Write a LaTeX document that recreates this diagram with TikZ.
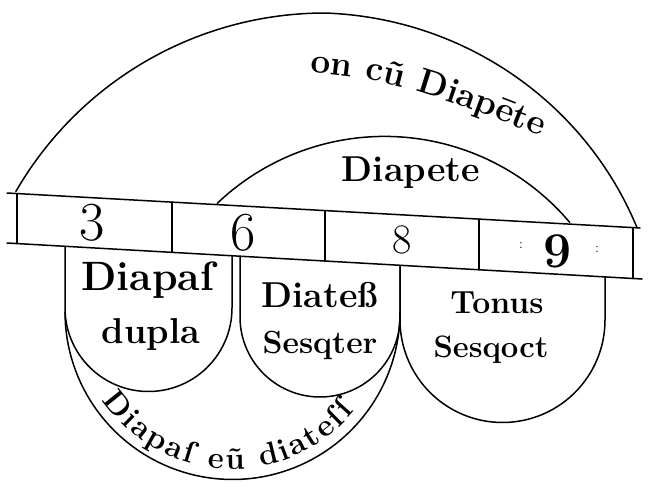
\documentclass[tikz,border=0pt]{standalone}
\usetikzlibrary{decorations.text}
\begin{document}
\begin{tikzpicture}[x=1pt,y=-1pt,
  ln/.style={line width=1.5pt,line cap=round,line join=round},
  lbl/.style={inner sep=0pt,anchor=base},
  num/.style={inner sep=0pt,anchor=base},
  speck/.style={inner sep=0pt,font=\fontsize{14}{14}\selectfont}]
\useasboundingbox (0,0) rectangle (655,495);
% --- the bar with its four cells
\draw[ln] (7,193) -- (640,228);
\draw[ln] (7,243) -- (642,279);
\draw[ln] (17,193.6) -- (17,243.6);
\draw[ln] (633,227.6) -- (633,278.5);
\draw[ln] (172,202.1) -- (172,252.4);
\draw[ln] (325,210.6) -- (325,261.0);
\draw[ln] (479,219.1) -- (479,269.8);
% --- numbers
\node[num,font=\fontsize{55}{55}\selectfont] (n3) at (92,240) {3};
\node[num,font=\fontsize{55}{55}\selectfont] (n6) at (243,250) {6};
\node[num,font=\fontsize{42}{42}\selectfont] (n8) at (402,253) {8};
\node[num,font=\bfseries\fontsize{50}{50}\selectfont] (n9) at (558,267) {9};
\node[speck] (s1) at (521,245) {:};
\node[speck] (s2) at (597,249) {:};
% --- big upper arc
\draw[ln] plot[domain=150:24.6,samples=120]
  ({325+(357-14*max(0,90-\x)/65.4)*cos(\x)},{370-(357-14*max(0,90-\x)/65.4)*sin(\x)});
% --- inner upper arc
\draw[ln] plot[domain=133.6:40.2,samples=80] ({384.5+242.5*cos(\x)},{378.9-242.5*sin(\x)});
% --- three U-shaped cells under the bar
\draw[ln] (65,246.3) -- (65,308) -- plot[domain=180:0,samples=60] ({148.5+83.5*cos(\x)},{308+83.5*sin(\x)}) -- (232,255.8);
\draw[ln] (240,256.2) -- (240,317) -- plot[domain=180:0,samples=60] ({320+80*cos(\x)},{317+80*sin(\x)}) -- (400,265.3);
\draw[ln] (400,265.3) -- (400,320) -- plot[domain=180:0,samples=60] ({502.5+102.5*cos(\x)},{320+102.5*sin(\x)}) -- (605,276.9);
% --- big lower arc
\draw[ln] plot[domain=180:0,samples=80] ({232.5+167.5*cos(\x)},{312+167.5*sin(\x)});
% --- labels inside
\node[lbl,font=\bfseries\fontsize{41}{41}\selectfont] (t1a) at (148,290) {Diapaſ};
\node[lbl,font=\bfseries\fontsize{36}{36}\selectfont] (t1b) at (151,343) {dupla};
\node[lbl,font=\bfseries\fontsize{36}{36}\selectfont] (t2a) at (320,307) {Diateß};
\node[lbl,font=\bfseries\fontsize{32}{32}\selectfont] (t2b) at (320,353) {Sesqter};
\node[lbl,font=\bfseries\fontsize{32}{32}\selectfont] (t3a) at (497,313) {Tonus};
\node[lbl,font=\bfseries\fontsize{31}{31}\selectfont] (t3b) at (491,357) {Sesqoct};
\node[lbl,font=\bfseries\fontsize{36}{36}\selectfont] (t4) at (411,181) {Diapete};
% --- curved labels
\path[decorate,decoration={text along path,text align=left,
  text={|\bfseries\fontsize{35}{35}\selectfont|on cũ Diapēte}}]
  (310,73) .. controls (390,76) and (460,104) .. (565,146);
\path[decorate,decoration={text along path,text align={fit to path},
  text={|\bfseries\fontsize{31}{31}\selectfont|Diapaſ eũ diateſſ}}]
  plot[domain=146:39,samples=60] ({232.5+157*cos(\x)},{312+157*sin(\x)});
\end{tikzpicture}
\end{document}
